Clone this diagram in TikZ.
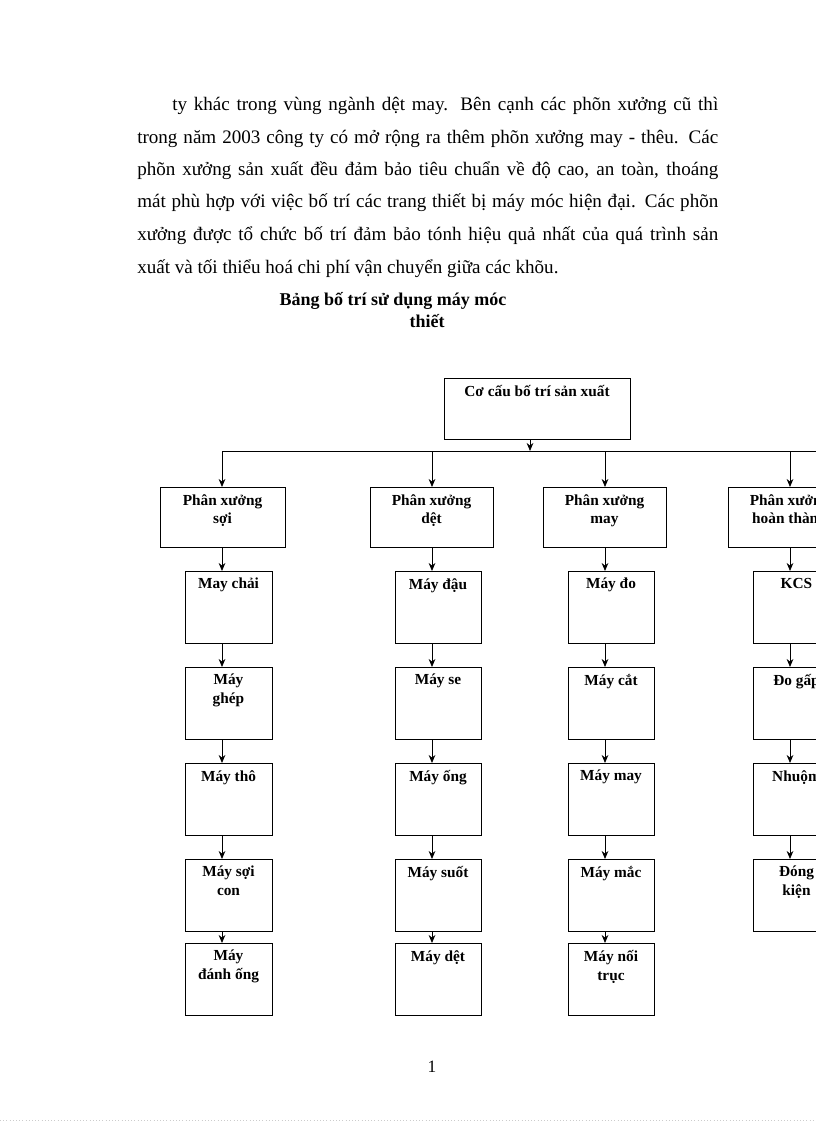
\documentclass[tikz,border=0pt]{standalone}
\usepackage{fontspec}
\setmainfont{Liberation Serif}
\usetikzlibrary{arrows.meta}
\begin{document}
\begin{tikzpicture}[x=0.75pt,y=-0.75pt,
  bx/.style={draw,line width=0.6pt},
  lb/.style={font=\fontsize{11.5}{14}\selectfont\bfseries,align=center,anchor=north,inner sep=0pt},
  ar/.style={-{Stealth[length=6pt,width=5pt]},line width=0.6pt}]
\useasboundingbox (0,0) rectangle (816,1123);
\clip (0,0) rectangle (816,1123);
\fill[white] (0,0) rectangle (816,1123);
% paragraph
\begin{scope}[every node/.style={anchor=base west,inner sep=0pt,font=\fontsize{14.3}{17}\selectfont}]
\node (l1) at (172,111) {\makebox[409.5pt][s]{ty khác trong vùng ngành dệt may. Bên cạnh các phõn xưởng cũ thì}};
\node (l2) at (137,144) {\makebox[435.75pt][s]{trong năm 2003 công ty có mở rộng ra thêm phõn xưởng may - thêu. Các}};
\node (l3) at (137,176) {\makebox[435.75pt][s]{phõn xưởng sản xuất đều đảm bảo tiêu chuẩn về độ cao, an toàn, thoáng}};
\node (l4) at (137,208) {\makebox[435.75pt][s]{mát phù hợp với việc bố trí các trang thiết bị máy móc hiện đại. Các phõn}};
\node (l5) at (137,240) {\makebox[435.75pt][s]{xưởng được tổ chức bố trí đảm bảo tónh hiệu quả nhất của quá trình sản}};
\node (l6) at (137,273) {xuất và tối thiểu hoá chi phí vận chuyển giữa các khõu.};
\end{scope}
\node[font=\fontsize{13.5}{15}\selectfont\bfseries,anchor=base] (t1) at (393,305) {Bảng bố trí sử dụng máy móc};
\node[font=\fontsize{13.5}{15}\selectfont\bfseries,anchor=base] (t2) at (427,327) {thiết};
% top box
\draw[bx] (444,378) rectangle (630,439);
\node[lb] (top) at (537,385) {Cơ cấu bố trí sản xuất};
\coordinate (tb) at (530,439);
\coordinate (hb) at (530,451);
\draw[ar] (tb) -- (hb);
\draw[line width=0.6pt] (222,451) -- (830,451);
% second row
\foreach \cx/\l/\r/\t [count=\i] in {222/160/285/{Phân xưởng\\sợi},432/370/493/{Phân xưởng\\dệt},605/543/666/{Phân xưởng\\may},790/728/851/{Phân xưởng\\hoàn thành}}{
  \draw[bx] (\l,487) rectangle (\r,547);
  \node[lb] (p\i) at ({(\l+\r)/2},494) {\t};
  \coordinate (pa\i) at (\cx,451);
  \coordinate (pb\i) at (\cx,487);
  \draw[ar] (pa\i) -- (pb\i);
}
% columns
\foreach \cx/\l/\r/\k/\A/\B/\C/\D/\E in {
 222/185/272/1/{May chải}/{Máy\\ghép}/{Máy thô}/{Máy sợi\\con}/{Máy\\đánh ống},
 432/395/481/2/{Máy đậu}/{Máy se}/{Máy ống}/{Máy suốt}/{Máy dệt},
 605/568/654/3/{Máy đo}/{Máy cắt}/{Máy may}/{Máy mắc}/{Máy nối\\trục},
 790/753/840/4/{KCS}/{Đo gấp}/{Nhuộm}/{Đóng\\kiện}/{}}{
 \foreach \y/\t [count=\j] in {571/\A,667/\B,763/\C,859/\D,943/\E}{
   \ifnum\k=4 \ifnum\j=5 \else
     \draw[bx] (\l,\y) rectangle (\r,\y+72);
     \node[lb] (c\k\j) at ({(\l+\r)/2},\y+7) {\t};
   \fi\else
     \draw[bx] (\l,\y) rectangle (\r,\y+72);
     \node[lb] (c\k\j) at ({(\l+\r)/2},\y+7) {\t};
   \fi
 }
 \draw[ar] (\cx,547) -- (\cx,571);
 \draw[ar] (\cx,643) -- (\cx,667);
 \draw[ar] (\cx,739) -- (\cx,763);
 \draw[ar] (\cx,835) -- (\cx,859);
 \ifnum\k=4\else \draw[ar] (\cx,931) -- (\cx,943);\fi
}
\node[font=\fontsize{13}{15}\selectfont,anchor=base] (pg) at (432,1072) {1};
\draw[gray!40,dotted] (0,1120) -- (816,1120);
\end{tikzpicture}
\end{document}
